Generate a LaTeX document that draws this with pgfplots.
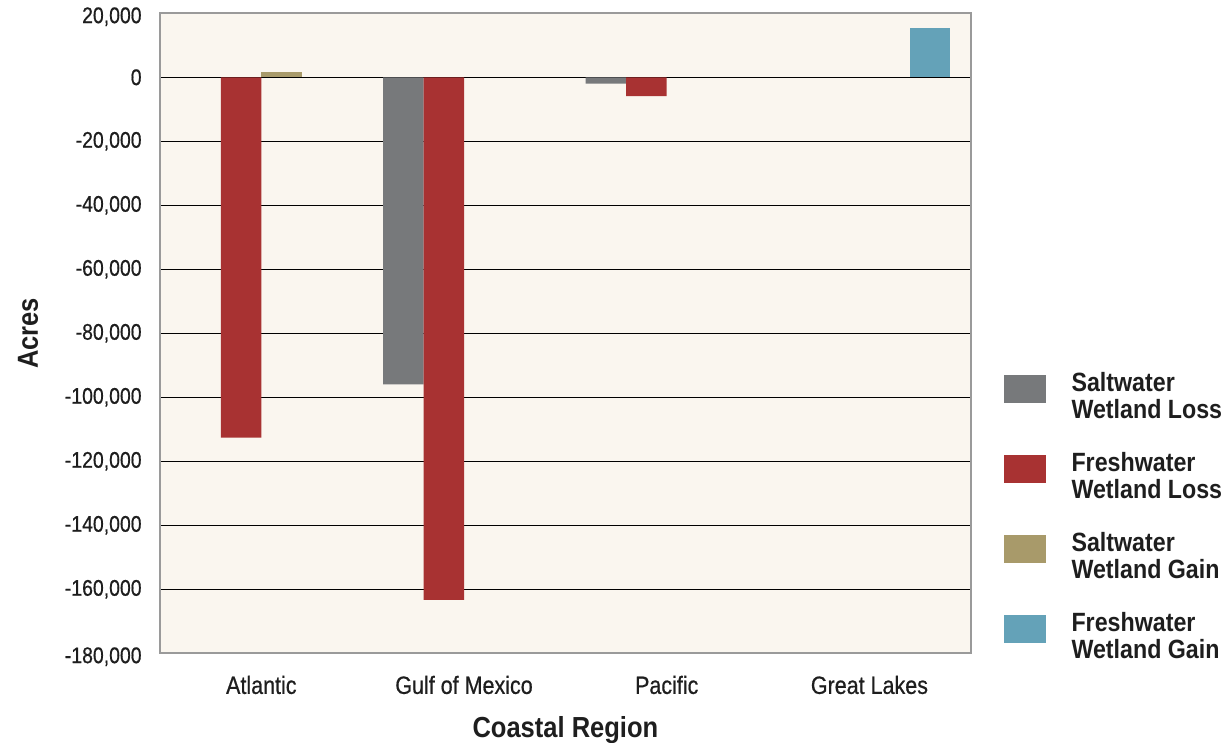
\documentclass[border=0pt]{standalone}
\usepackage{fontspec}
\setmainfont{Liberation Sans}[FakeStretch=0.88]
\newfontfamily\tickfont{Liberation Sans}[FakeStretch=0.86, FakeBold=0.6]
\usepackage{pgfplots}
\pgfplotsset{compat=1.18}

\definecolor{saltloss}{HTML}{77797B}
\definecolor{freshloss}{HTML}{A83232}
\definecolor{saltgain}{HTML}{A89A6A}
\definecolor{freshgain}{HTML}{64A2B8}
\definecolor{plotbg}{HTML}{FAF6EF}
\definecolor{framegray}{HTML}{9A9A9A}
\definecolor{labeltext}{HTML}{1E1E1E}

\begin{document}
\begin{tikzpicture}
\useasboundingbox (-80pt,-44.85pt) rectangle (534pt,326.65pt);
\begin{axis}[
  at={(0,0)}, anchor=south west,
  scale only axis, width=405.4pt, height=320pt,
  ybar=0pt, bar width=20.25pt,
  xmin=-0.5, xmax=3.5, ymin=-180000, ymax=20000,
  xtick={0,1,2,3},
  xticklabels={Atlantic,Gulf of Mexico,Pacific,Great Lakes},
  % interior gridlines; the two outer values sit on the frame
  ytick={-160000,-140000,-120000,-100000,-80000,-60000,-40000,-20000,0},
  yticklabels={{-160,000},{-140,000},{-120,000},{-100,000},{-80,000},{-60,000},{-40,000},{-20,000},{0}},
  extra y ticks={-180000,20000},
  extra y tick labels={{-180,000},{20,000}},
  extra y tick style={grid=none, yticklabel style={yshift=-1.7pt}},
  major tick length=0pt,
  ymajorgrids,
  grid style={black, line width=0.75pt},
  axis line style={draw=framegray, line width=0.9pt},
  axis background/.style={fill=plotbg},
  yticklabel style={font=\tickfont\fontsize{11.3}{12}\selectfont, text=labeltext,
    anchor=east, inner sep=0pt, xshift=-9pt},
  xticklabel style={font=\tickfont\fontsize{12.5}{13}\selectfont, text=labeltext,
    anchor=base, inner sep=0pt, yshift=-20.3pt},
  xlabel={Coastal Region},
  ylabel={Acres},
  every axis x label/.style={at={(axis description cs:0.5,0)}, anchor=base, yshift=-42pt,
    font=\bfseries\fontsize{14.5}{16}\selectfont, text=labeltext},
  every axis y label/.style={at={(axis description cs:-0.1628,0.5)}, rotate=90, anchor=center,
    font=\bfseries\fontsize{14.5}{16}\selectfont, text=labeltext},
  legend style={
    at={(1.0399,0.4395)}, anchor=north west,
    draw=none, fill=none, inner sep=0pt,
    font=\bfseries\fontsize{13.2}{13.5}\selectfont, text=labeltext,
    cells={anchor=west, align=left},
    column sep=13pt, row sep=15.5pt,
    nodes={inner sep=0pt},
  },
  legend image code/.code={\path[#1] (0pt,-3pt) rectangle (21pt,11pt);},
]
\addplot[fill=saltloss, draw=none] coordinates {(1,-96000) (2,-2000)};
\addlegendentry{Saltwater\\Wetland Loss}
\addplot[fill=freshloss, draw=none] coordinates {(0,-112600) (1,-163300) (2,-5900)};
\addlegendentry{Freshwater\\Wetland Loss}
\addplot[fill=saltgain, draw=none] coordinates {(0,1600)};
\addlegendentry{Saltwater\\Wetland Gain}
\addplot[fill=freshgain, draw=none] coordinates {(3,15300)};
\addlegendentry{Freshwater\\Wetland Gain}
\end{axis}
\end{tikzpicture}
\end{document}
